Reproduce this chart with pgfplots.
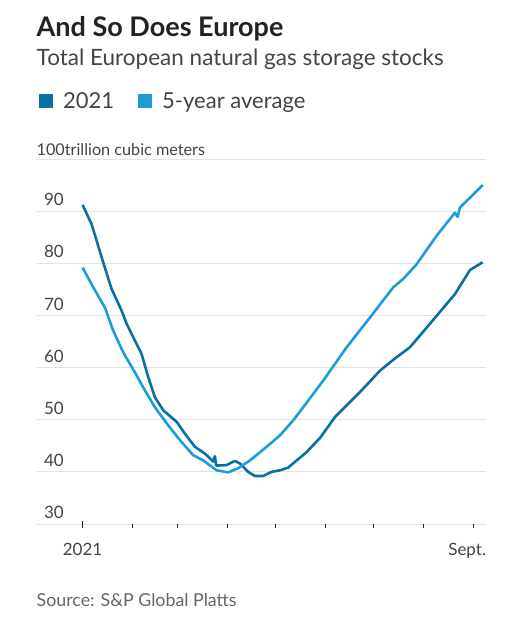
\documentclass[border=0pt]{standalone}
\usepackage{pgfplots}
\pgfplotsset{compat=1.18}
\usepackage{fontspec}
\setmainfont{Lato}
\definecolor{dark}{HTML}{0C6FA3}
\definecolor{light}{HTML}{1E9CD8}
\definecolor{gridc}{HTML}{E3E3E3}
\definecolor{txt}{HTML}{444444}
\definecolor{ttl}{HTML}{222222}
\definecolor{src}{HTML}{666666}
\begin{document}
\begin{tikzpicture}
\path[use as bounding box] (0,0) rectangle (517bp,-632bp);
\node[anchor=base west, inner sep=0, text=ttl] at (36.5bp,-36bp) {\fontsize{27bp}{30bp}\selectfont\bfseries And So Does Europe};
\node[anchor=base west, inner sep=0, text=txt] at (36.5bp,-65.5bp) {\fontsize{22.5bp}{26bp}\selectfont Total European natural gas storage stocks};
\node[anchor=base west, inner sep=0, text=txt] at (36.5bp,-155bp) {\fontsize{16.2bp}{20bp}\selectfont 100trillion cubic meters};
\node[anchor=base west, inner sep=0, text=src] at (36.5bp,-606bp) {\fontsize{17.8bp}{22bp}\selectfont Source: S\&P Global Platts};
\begin{axis}[
  at={(36bp,-524bp)}, anchor=south west,
  scale only axis, width=450bp, height=365bp,
  xmin=-29, xmax=251, ymin=30, ymax=100,
  axis line style={draw=none},
  ytick={30,40,...,100},
  yticklabels={30,40,50,60,70,80,90,{}},
  ymajorgrids, grid style={gridc, line width=1bp},
  ytick style={draw=none},
  yticklabel style={anchor=south east, inner sep=0pt, xshift=28bp, yshift=5bp, text=txt, font=\fontsize{17bp}{20bp}\selectfont},
  xtick={0,31,59,90,120,151,181,212,243},
  xticklabels={,,,,,,,,{\makebox[0pt]{Sept.\hspace*{12bp}}}},
  xtick pos=left,
  major tick length=4bp,
  xtick style={draw=ttl, line width=1.2bp, yshift=-4bp},
  xticklabel style={anchor=base, inner sep=0pt, yshift=-31bp, text=txt, font=\fontsize{17bp}{20bp}\selectfont},
  extra x ticks={0},
  extra x tick labels={2021},
  extra x tick style={major tick length=7bp},
  /pgf/number format/assume math mode=true,
  legend columns=2,
  legend style={at={(0,1.129)}, anchor=south west, draw=none, fill=none, inner sep=0pt,
    font=\fontsize{22bp}{26bp}\selectfont, text=txt,
    /tikz/every even column/.append style={column sep=19bp}},
  legend image code/.code={\fill[#1, draw=none] (3bp,-7bp) rectangle (17bp,7bp); \path[draw=none, fill=none] (0bp,0bp) -- (25bp,0bp);},
  legend cell align=left,
]
\addplot[color=dark, line width=2.6bp, line join=round] coordinates {
(0,91.2) (5.6,87.5) (12.8,80.2) (18.0,75.1) (24.3,70.9) (27.4,68.4) (32.5,65.2) (36.7,62.6)
(40.8,58.2) (45.0,54.3) (50.2,51.8) (58.5,49.6) (63.7,47.3) (69.9,44.8) (76.1,43.5) (81.3,42.0)
(82.3,43.0) (83.1,41.2) (89.6,41.3) (94.8,42.1) (97.9,41.6) (103.0,40.0) (107.2,39.2) (112.4,39.2)
(117.6,40.0) (122.8,40.3) (127.9,40.8) (133.2,42.2) (139.4,43.8) (147.7,46.5) (157.0,50.5)
(172.6,55.3) (185.0,59.4) (193.3,61.5) (203.7,63.9) (216.1,68.4) (231.7,74.1) (241.0,78.7) (248.9,80.2)
};
\addlegendentry{2021}
\addplot[color=light, line width=2.6bp, line join=round] coordinates {
(0,79.2) (6.6,75.4) (13.9,71.5) (19.0,67.1) (25.3,62.9) (32.5,59.1) (38.8,55.6) (45.0,52.4)
(53.3,48.9) (60.5,46.1) (68.8,43.2) (75.0,42.2) (83.4,40.3) (90.6,39.9) (96.8,40.7) (104.1,42.2)
(114.5,44.8) (122.8,47.0) (131.1,49.9) (137.3,52.4) (149.7,57.5) (164.3,63.9) (178.8,69.6)
(193.3,75.4) (199.5,77.0) (207.8,79.8) (220.3,85.3) (231.7,89.7) (233.3,88.9) (234.8,90.7)
(243.1,93.2) (248.9,95.0)
};
\addlegendentry{5-year average}
\end{axis}
\end{tikzpicture}
\end{document}
